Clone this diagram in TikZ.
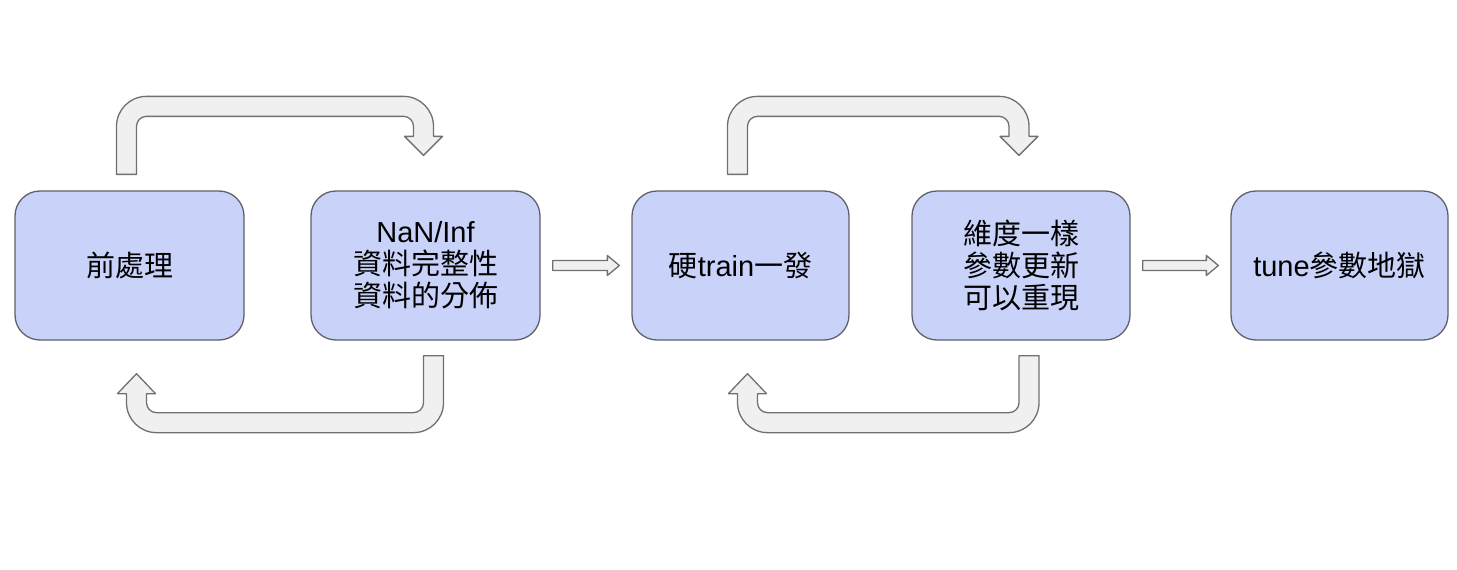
\documentclass[tikz,border=0pt]{standalone}
\usepackage{fontspec}
\setmainfont{Noto Sans CJK TC}
\newfontfamily\lat{Liberation Sans}
\usetikzlibrary{calc}
\definecolor{boxfill}{RGB}{201,211,250}
\definecolor{boxline}{RGB}{96,96,104}
\definecolor{arrfill}{RGB}{240,240,240}
\definecolor{arrline}{RGB}{112,112,112}
\tikzset{
  stage/.style={draw=boxline, fill=boxfill, line width=1.3pt, rounded corners=25pt,
    minimum height=149pt, inner sep=0pt, align=center, font=\fontsize{29}{32}\selectfont},
  fat/.style={draw=arrline, fill=arrfill, line width=1.3pt, line join=round}
}
\begin{document}
\begin{tikzpicture}[x=1pt,y=1pt]
  \useasboundingbox (0,0) rectangle (1457,-570);
  \node[stage, minimum width=229pt] (pre) at (129.5,-265.5) {前處理};
  \node[stage, minimum width=229pt] (chk) at (425.5,-265.5) {{\lat NaN/Inf}\\資料完整性\\資料的分佈};
  \node[stage, minimum width=217pt] (hard) at (740.5,-265.5) {硬{\lat train}一發};
  \node[stage, minimum width=218pt] (dim) at (1021,-265.5) {維度一樣\\參數更新\\可以重現};
  \node[stage, minimum width=217pt] (tune) at (1339.5,-265.5) {{\lat tune}參數地獄};

  % loops over the top
  \foreach \from/\to in {pre/chk, hard/dim}
    \draw[fat] let \p1=(\from.north), \p2=(\to.north) in
      (\x1-13pt,\y1+16pt) -- (\x1-13pt,\y1+64pt) arc[start angle=180,end angle=90,radius=30pt]
      -- (\x2-22pt,\y1+94pt) arc[start angle=90,end angle=0,radius=30pt]
      -- (\x2+8pt,\y1+54pt) -- (\x2+17pt,\y1+54pt) -- (\x2-2pt,\y1+35pt)
      -- (\x2-21pt,\y1+54pt) -- (\x2-12pt,\y1+54pt)
      -- (\x2-12pt,\y1+64pt) arc[start angle=0,end angle=90,radius=10pt]
      -- (\x1+17pt,\y1+74pt) arc[start angle=90,end angle=180,radius=10pt]
      -- (\x1+7pt,\y1+16pt) -- cycle;

  % loops underneath
  \foreach \from/\to in {chk/pre, dim/hard}
    \draw[fat] let \p1=(\from.south), \p2=(\to.south) in
      (\x1+18pt,\y1-15pt) -- (\x1+18pt,\y1-62pt) arc[start angle=0,end angle=-90,radius=30pt]
      -- (\x2+27pt,\y1-92pt) arc[start angle=270,end angle=180,radius=30pt]
      -- (\x2-3pt,\y1-53pt) -- (\x2-12pt,\y1-53pt) -- (\x2+7pt,\y1-33pt)
      -- (\x2+26pt,\y1-53pt) -- (\x2+17pt,\y1-53pt)
      -- (\x2+17pt,\y1-62pt) arc[start angle=180,end angle=270,radius=10pt]
      -- (\x1-12pt,\y1-72pt) arc[start angle=270,end angle=360,radius=10pt]
      -- (\x1-2pt,\y1-15pt) -- cycle;

  % straight ones
  \foreach \from/\to in {chk/hard, dim/tune}
    \draw[fat] let \p1=(\from.east), \p2=(\to.west) in
      (\x1+12pt,\y1+5pt) -- (\x2-24pt,\y1+5pt) -- (\x2-24pt,\y1+10pt) -- (\x2-12pt,\y1)
      -- (\x2-24pt,\y1-10pt) -- (\x2-24pt,\y1-5pt) -- (\x1+12pt,\y1-5pt) -- cycle;
\end{tikzpicture}
\end{document}
